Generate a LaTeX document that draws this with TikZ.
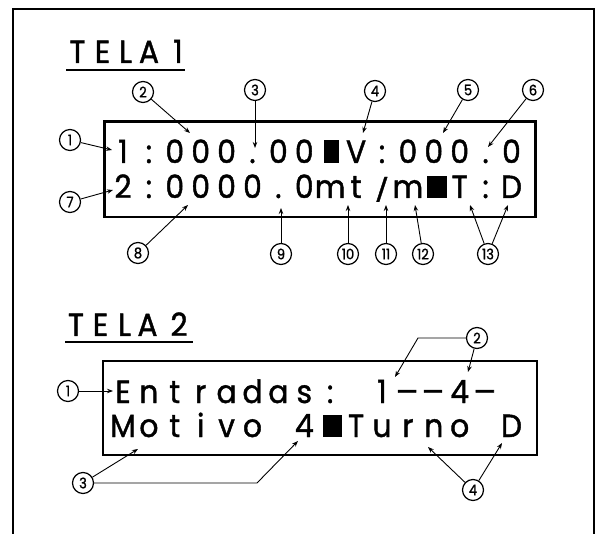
\documentclass[tikz,border=0pt]{standalone}
\usepackage{fontspec}
\usetikzlibrary{arrows.meta}
\newfontfamily\lcd[FakeStretch=0.93,FakeBold=1.3]{Poppins}
\newfontfamily\numfont[FakeStretch=0.9,FakeBold=1.2]{Poppins}
\begin{document}
\begin{tikzpicture}[x=1pt,y=-1pt,
  ch/.style={anchor=base,inner sep=0pt,font=\lcd\fontsize{32}{32}\selectfont},
  num/.style={circle,draw,line width=1.2pt,minimum size=21pt,inner sep=0pt,font=\numfont\fontsize{14.5}{14.5}\selectfont},
  arr/.style={line width=0.9pt,-{Stealth[length=6pt,width=4.5pt]}},
  box/.style={line width=2.4pt},
  uline/.style={line width=2.4pt},
  frame/.style={line width=1.8pt}]
\useasboundingbox (0,0) rectangle (597,534);
% outer frame (open at the bottom)
\draw[frame] (12.7,534) -- (12.7,9) -- (594,9) -- (594,534);

% ---------------- TELA 1 ----------------
\foreach \c/\x [count=\i] in {T/77.5,E/102.5,L/125.5,A/149,1/178}
  \node[ch] (ta\i) at (\x,63) {\c};
\draw[uline] (66,70) -- (185,70);

\draw[box] (104.5,121.5) rectangle (535.5,217);
\foreach \k/\c in {0/1,1/:,2/0,3/0,4/0,5/.,6/0,7/0,9/V,10/:,11/0,12/0,13/0,14/.,15/0}
  \node[ch] (a\k) at ({123+25.9*\k},163) {\c};
\fill (324,140) rectangle (339,163);
\foreach \k/\c in {0/2,1/:,2/0,3/0,4/0,5/0,6/.,7/0,8/m,9/t,11/m,13/T,14/:,15/D}
  \node[ch] (b\k) at ({123+25.9*\k},198) {\c};
\node[ch] (b10) at ({123+25.9*10},198) {\scalebox{1}[0.7]{/}};
\fill (427,176) rectangle (447,198);

\node[num] (n1) at (70,140) {1};
\node[num] (n2) at (143,92) {2};
\node[num] (n3) at (255,90) {3};
\node[num] (n4) at (375,91) {4};
\node[num] (n5) at (468,90) {5};
\node[num] (n6) at (533,90) {6};
\node[num] (n7) at (70,202) {7};
\node[num] (n8) at (138,253) {8};
\node[num] (n9) at (281,254) {9};
\node[num] (n10) at (348,254) {10};
\node[num] (n11) at (386,254) {11};
\node[num] (n12) at (423,254) {12};
\node[num] (n13) at (488,254) {13};

\coordinate (p1) at (112,150);
\coordinate (p2) at (190,133);
\coordinate (p3) at (255,148);
\coordinate (p4) at (363,133);
\coordinate (p5) at (443,133);
\coordinate (p6) at (488,147);
\coordinate (p7) at (113,190);
\coordinate (p8) at (188,205);
\coordinate (p9) at (281,208);
\coordinate (p10) at (348,205);
\coordinate (p11) at (386,205);
\coordinate (p12) at (415,205);
\coordinate (p13a) at (470,205);
\coordinate (p13b) at (508,205);
\foreach \i in {1,...,12} \draw[arr] (n\i) -- (p\i);
\draw[arr] (n13) -- (p13a);
\draw[arr] (n13) -- (p13b);

% ---------------- TELA 2 ----------------
\foreach \c/\x [count=\i] in {T/76,E/100.5,L/124.5,A/147.5,2/179}
  \node[ch] (tb\i) at (\x,336) {\c};
\draw[uline] (65,342) -- (193,342);

\draw[box] (103,361) rectangle (537,455);
\foreach \k/\c in {0/E,1/n,2/t,3/r,4/a,5/d,6/a,7/s,8/:,10/1,13/4}
  \node[ch] (c\k) at ({123+25.9*\k},403) {\c};
\foreach \k in {11,12,14}
  \node[ch] (c\k) at ({123+25.9*\k},403) {\scalebox{1.5}[1]{-}};
\foreach \k/\c in {0/M,1/o,2/t,3/i,4/v,5/o,7/4,9/T,10/u,11/r,12/n,13/o,15/D}
  \node[ch] (d\k) at ({123+25.9*\k},437) {\c};
\fill (323,415) rectangle (342,437);

\node[num] (m1) at (68,391) {1};
\node[num] (m2) at (477,338) {2};
\node[num] (m3) at (83,483) {3};
\node[num] (m4) at (473,490) {4};

\coordinate (q1) at (113,391);
\coordinate (q2e) at (418,338);
\coordinate (q2a) at (395,377);
\coordinate (q2b) at (468,372);
\coordinate (q3a) at (138,449);
\coordinate (q3e) at (257,483);
\coordinate (q3b) at (298,441);
\coordinate (q4a) at (428,447);
\coordinate (q4b) at (502,443);
\draw[arr] (m1) -- (q1);
\draw[arr] (m2.west) -- (q2e) -- (q2a);
\draw[arr] (m2) -- (q2b);
\draw[arr] (m3) -- (q3a);
\draw[arr] (m3.east) -- (q3e) -- (q3b);
\draw[arr] (m4) -- (q4a);
\draw[arr] (m4) -- (q4b);
\end{tikzpicture}
\end{document}
